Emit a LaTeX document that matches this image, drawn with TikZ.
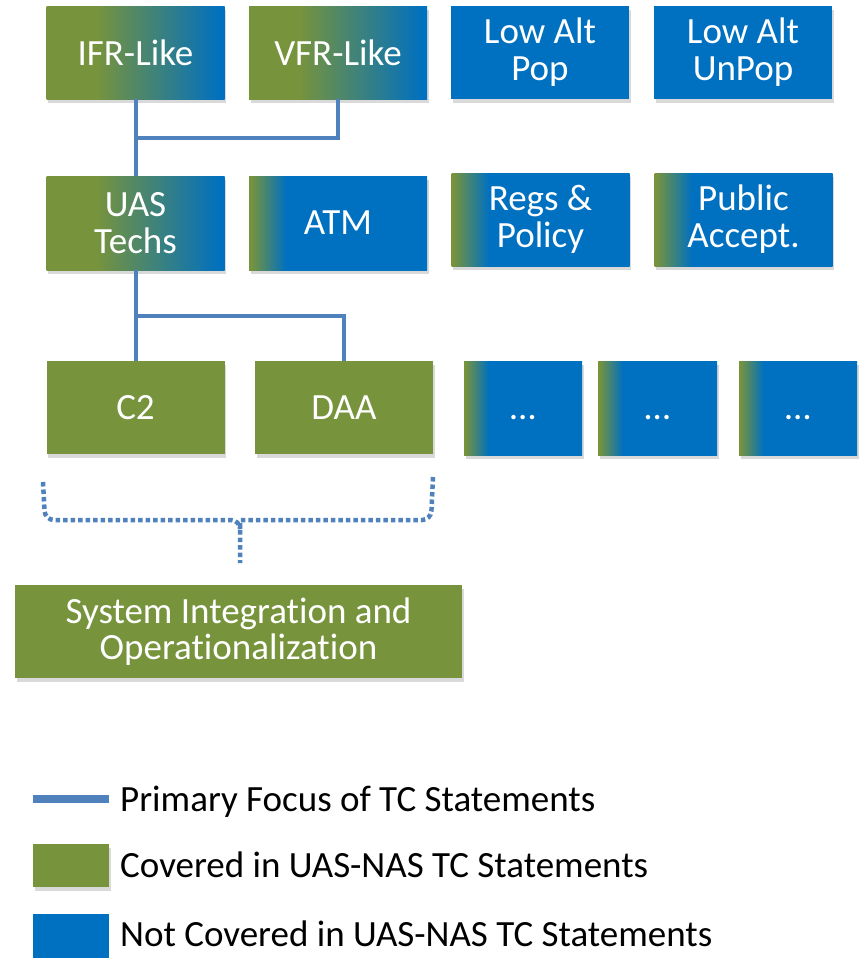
\documentclass[tikz,border=0pt]{standalone}
\usepackage{fontspec}
\setmainfont[Ligatures=NoCommon]{Carlito}
\usetikzlibrary{shadows}
\definecolor{cgreen}{HTML}{77933C}
\definecolor{cblue}{HTML}{0070C0}
\definecolor{cline}{HTML}{4F81BD}
\pgfdeclarehorizontalshading{gbfull}{100bp}{color(0bp)=(cgreen); color(39bp)=(cgreen); color(74bp)=(cblue); color(100bp)=(cblue)}
\pgfdeclarehorizontalshading{gbedge}{100bp}{color(0bp)=(cgreen); color(25.5bp)=(cgreen); color(35.5bp)=(cblue); color(100bp)=(cblue)}
\tikzset{
  boxbase/.style={rectangle, inner sep=0pt, minimum width=178pt, minimum height=93pt,
    text=white, align=center, font=\fontsize{37}{37}\selectfont,
    drop shadow={opacity=0.3, shadow xshift=1.5pt, shadow yshift=-3.5pt}},
  greenbox/.style={boxbase, fill=cgreen},
  bluebox/.style={boxbase, fill=cblue},
  fullgrad/.style={boxbase, shading=gbfull},
  edgegrad/.style={boxbase, shading=gbedge},
  focus/.style={draw=cline, line width=4pt},
  brace/.style={draw=cline, line width=4.5pt, dash pattern=on 4.5pt off 3pt, rounded corners=9pt},
  legtext/.style={anchor=base west, inner sep=0pt, font=\fontsize{37}{37}\selectfont, text=black},
}
\begin{document}
\begin{tikzpicture}[x=1pt, y=-1pt]
\useasboundingbox (0,0) rectangle (865,959);

\coordinate (j1) at (135.5,138);
\coordinate (j2) at (135.5,316);
\coordinate (bl) at (43,482);
\coordinate (br) at (433,477);
\coordinate (bm) at (240,520);
\coordinate (bt) at (240,563);

% top row
\node[fullgrad] (ifr) at (135.5,52.5) {IFR-Like};
\node[fullgrad] (vfr) at (338,52.5) {VFR-Like};
\node[bluebox] (lap) at (540,52.5) {Low Alt\\Pop};
\node[bluebox] (lau) at (743,52.5) {Low Alt\\UnPop};

% middle row
\node[fullgrad, minimum height=94pt] (uas) at (135.5,223) {UAS\\Techs};
\node[edgegrad, minimum height=94pt] (atm) at (338,223) {\vphantom{A}ATM};
\node[edgegrad] (regs) at (540.5,219.5) {Regs \&\\Policy};
\node[edgegrad] (pub) at (743.5,219.5) {Public\\Accept.};

% bottom row
\node[greenbox] (c2) at (135.5,407.5) {C2};
\node[greenbox] (daa) at (344,407.5) {DAA};
\node[edgegrad, minimum width=118pt, minimum height=94pt] (d1) at (523,408) {\vphantom{A}\dots};
\node[edgegrad, minimum width=119pt, minimum height=94pt] (d2) at (657.5,408) {\vphantom{A}\dots};
\node[edgegrad, minimum width=118pt, minimum height=94pt] (d3) at (798,408) {\vphantom{A}\dots};

% system box
\node[greenbox, minimum width=447pt, font=\fontsize{37}{35.5}\selectfont] (sys) at (238.5,631.5) {System Integration and\\Operationalization};

% focus lines
\draw[focus] (ifr.south) -- (uas.north);
\draw[focus] (vfr.south) |- (j1);
\draw[focus] (uas.south) -- (c2.north);
\draw[focus] (daa.north) |- (j2);

% dotted brace
\draw[brace] (bl) -- (45,520) -- (bm) -- (240,532) -- (bt);
\draw[brace] (br) -- (431,520) -- (bm);

% legend
\coordinate (l1a) at (33,799);
\coordinate (l1b) at (109,799);
\draw[cline, line width=8pt, drop shadow={opacity=0.25, shadow xshift=1.5pt, shadow yshift=-3pt}] (l1a) -- (l1b);
\node[rectangle, fill=cgreen, minimum width=76pt, minimum height=43pt, inner sep=0pt,
  drop shadow={opacity=0.3, shadow xshift=1.5pt, shadow yshift=-3.5pt}] (lg) at (71,865.5) {};
\node[rectangle, fill=cblue, minimum width=76pt, minimum height=44pt, inner sep=0pt] (lb) at (71,936) {};
\node[legtext] (t1) at (120,811) {Primary Focus of TC Statements};
\node[legtext] (t2) at (120,877) {Covered in UAS-NAS TC Statements};
\node[legtext] (t3) at (120,946) {Not Covered in UAS-NAS TC Statements};
\end{tikzpicture}
\end{document}
